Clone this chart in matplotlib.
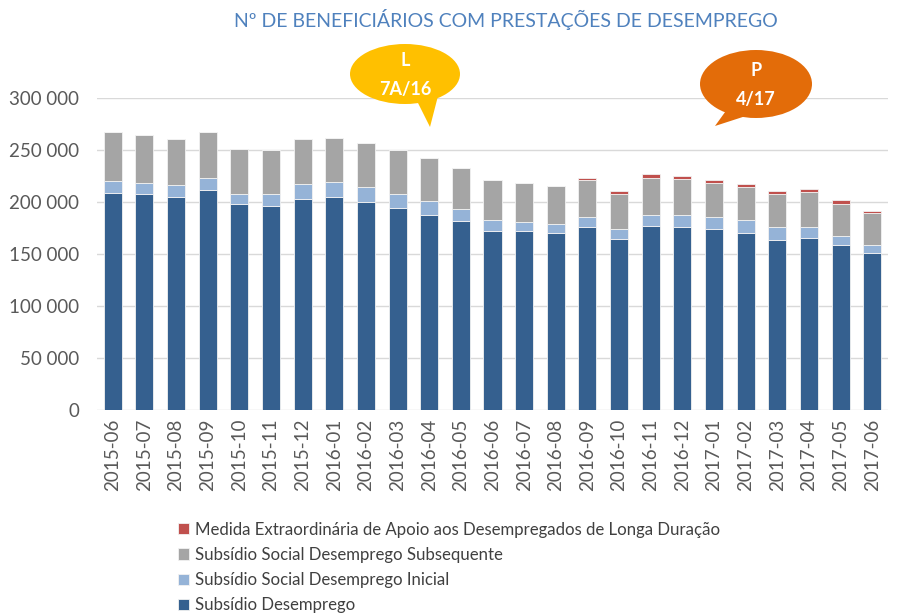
import numpy as np
import matplotlib
matplotlib.use("Agg")
import matplotlib.pyplot as plt
from matplotlib.patches import Ellipse, Polygon

plt.rcParams['font.family'] = ['Lato', 'DejaVu Sans']

# dados (milhares)
months = ["2015-06", "2015-07", "2015-08", "2015-09", "2015-10", "2015-11", "2015-12",
          "2016-01", "2016-02", "2016-03", "2016-04", "2016-05", "2016-06", "2016-07",
          "2016-08", "2016-09", "2016-10", "2016-11", "2016-12", "2017-01", "2017-02",
          "2017-03", "2017-04", "2017-05", "2017-06"]
subsidio_desemprego = [209.0, 208.0, 205.0, 211.8, 197.8, 196.5, 203.0, 205.0, 199.7, 194.5,
                       187.8, 182.0, 172.4, 171.8, 170.5, 176.3, 164.7, 177.2, 175.6, 174.3,
                       170.5, 163.8, 165.7, 158.7, 151.3]
ssd_inicial = [11.0, 10.3, 11.0, 11.0, 10.2, 10.9, 14.0, 14.0, 14.3, 13.5, 13.2, 11.0, 10.0,
               9.0, 8.3, 9.0, 9.0, 10.3, 11.6, 11.3, 11.9, 11.8, 10.6, 8.6, 7.4]
ssd_subsequente = [47.6, 46.1, 44.3, 44.2, 43.0, 42.3, 43.3, 42.5, 42.4, 42.3, 41.6, 40.0,
                   38.6, 37.5, 36.6, 35.7, 34.3, 35.9, 34.8, 33.0, 32.3, 32.4, 33.0, 31.1, 30.4]
medida_extra = [0, 0, 0, 0, 0, 0, 0, 0, 0, 0, 0, 0, 0, 0, 0, 1.8, 2.6, 3.2, 3.3, 2.9, 2.9,
                2.6, 2.9, 3.5, 2.5]

series = [
    ("Subsídio Desemprego", subsidio_desemprego, "#35608F"),
    ("Subsídio Social Desemprego Inicial", ssd_inicial, "#95B3D7"),
    ("Subsídio Social Desemprego Subsequente", ssd_subsequente, "#A5A5A5"),
    ("Medida Extraordinária de Apoio aos Desempregados de Longa Duração", medida_extra, "#C0504D"),
]

W, H = 898, 616
fig = plt.figure(figsize=(W / 100, H / 100), dpi=100)
ax = fig.add_axes([97 / W, 1 - 410 / H, (888 - 97) / W, (410 - 98) / H])

x = np.arange(len(months))
bottom = np.zeros(len(months))
handles = []
for name, vals, col in series:
    v = np.array(vals) * 1000
    b = ax.bar(x, v, 0.57, bottom=bottom, color=col, edgecolor="#F2F2F2",
               linewidth=0.6, label=name, zorder=3)
    handles.append(b)
    bottom += v

ax.set_xlim(-0.5, len(months) - 0.5)
ax.set_ylim(0, 300000)
yt = np.arange(0, 300001, 50000)
ax.set_yticks(yt)
ax.set_yticklabels(["0" if t == 0 else f"{t // 1000} 000" for t in yt])
ax.set_xticks(x)
ax.set_xticklabels(months, rotation=90)
ax.tick_params(axis="both", length=0, labelsize=13.5, labelcolor="#595959")
ax.tick_params(axis="y", pad=13)
ax.tick_params(axis="x", pad=6)
ax.grid(axis="y", color="#D9D9D9", linewidth=1, zorder=0)
for s in ax.spines.values():
    s.set_visible(False)

fig.text(506 / W, 1 - 20 / H, "Nº DE BENEFICIÁRIOS COM PRESTAÇÕES DE DESEMPREGO",
         ha="center", va="center", color="#4F81BD", fontsize=14)

leg = fig.legend(handles[::-1], [s[0] for s in series][::-1], loc="upper left",
                 bbox_to_anchor=(171 / W, 1 - 515 / H), frameon=False, fontsize=12.1,
                 handlelength=0.65, handleheight=0.65, handletextpad=0.35, labelspacing=0.55,
                 borderaxespad=0)
for t in leg.get_texts():
    t.set_color("#404040")

# balões
def balloon(cx, cy, w, h, tail, col, l1, l2):
    tr = fig.transFigure
    fx = lambda px: px / W
    fy = lambda py: 1 - py / H
    fig.patches.append(Ellipse((fx(cx), fy(cy)), w / W, h / H, transform=tr,
                               facecolor=col, edgecolor="none", zorder=5))
    fig.patches.append(Polygon([(fx(a), fy(b)) for a, b in tail], closed=True,
                               transform=tr, facecolor=col, edgecolor="none", zorder=5))
    fig.text(fx(cx), fy(cy - 13), l1, ha="center", va="center", color="white",
             fontsize=13, fontweight="bold", zorder=6)
    fig.text(fx(cx), fy(cy + 15), l2, ha="center", va="center", color="white",
             fontsize=13, fontweight="bold", zorder=6)

balloon(405, 74, 110, 60, [(414, 95), (438, 96), (430, 127)], "#FFC000", "L", "7A/16")
balloon(756, 84, 112, 68, [(728, 108), (752, 114), (715, 126)], "#E36C09", "P", "4/17")

fig.savefig("out.png", dpi=100)
